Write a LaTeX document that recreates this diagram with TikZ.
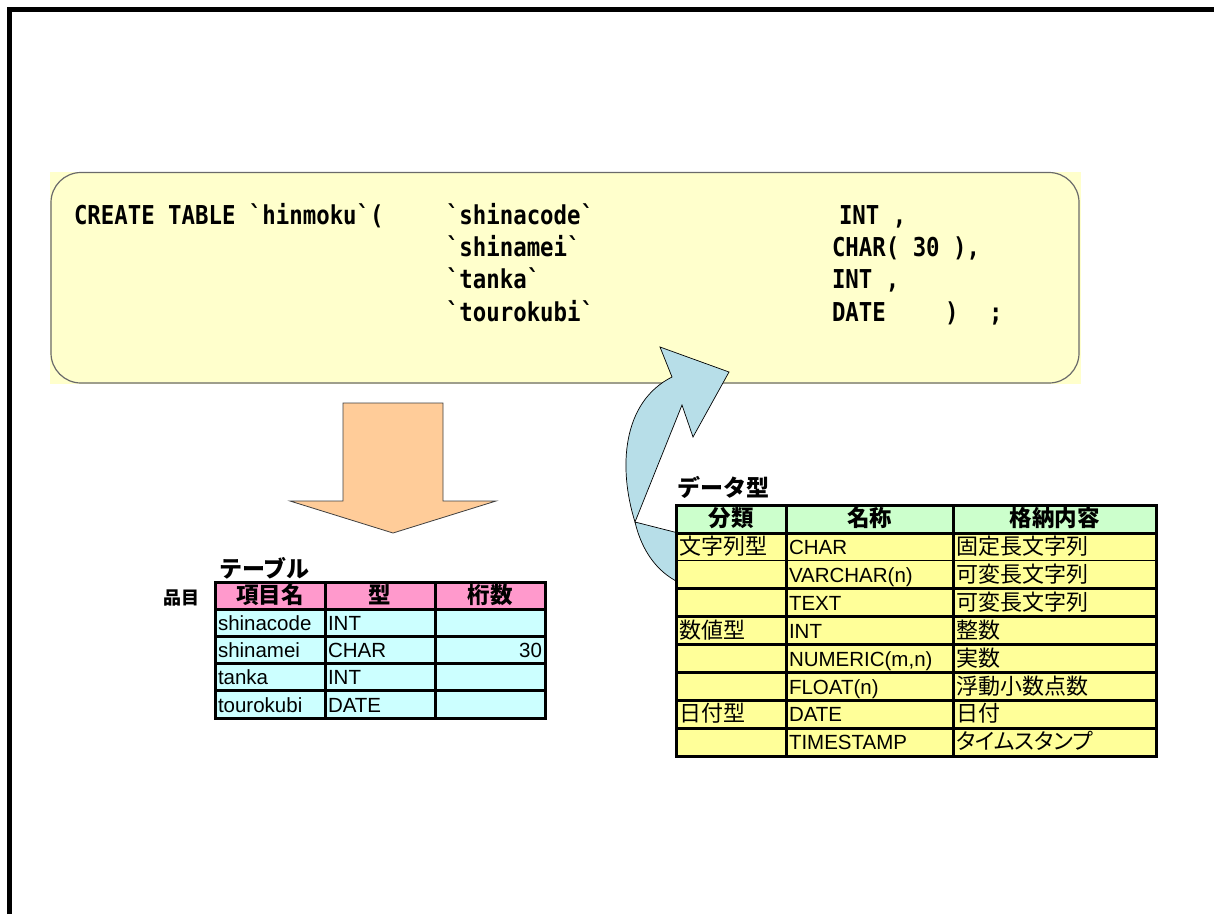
\documentclass[tikz,border=0pt]{standalone}
\usepackage{fontspec}
\setmainfont{Liberation Sans}
\newfontfamily\jp{Noto Sans CJK JP}
\newfontfamily\jpp{Noto Sans CJK JP}[RawFeature=+palt]
% monospaced, slightly condensed face for the SQL statement (no TeX quote mapping)
\font\codefont="DejaVu Sans Mono/B:extend=0.86" at 26pt

\definecolor{codefill}{HTML}{FFFFCC}
\definecolor{codeline}{HTML}{6A6A6A}
\definecolor{orangefill}{HTML}{FFCC99}
\definecolor{bluefill}{HTML}{B7DEE8}
\definecolor{pinkhdr}{HTML}{FF99CC}
\definecolor{cyanbody}{HTML}{CCFFFF}
\definecolor{greenhdr}{HTML}{CCFFCC}
\definecolor{yellowbody}{HTML}{FFFF99}

\tikzset{
  codetxt/.style={anchor=base west, font=\codefont},
  tabtitle/.style={anchor=base west, font=\jp\bfseries\fontsize{23}{25}\selectfont},
  hdrL/.style={fill=pinkhdr, draw=black, line width=3pt, minimum width=110pt,
    minimum height=27.2pt, font=\jp\bfseries\fontsize{22.5}{24}\selectfont,
    text height=17pt, text depth=2pt},
  bodyL/.style={fill=cyanbody, draw=black, line width=3pt, minimum width=110pt,
    minimum height=27.2pt, text width=104pt, inner xsep=3pt,
    font=\fontsize{20.5}{22}\selectfont, text height=16pt, text depth=0.5pt},
  hdrR/.style={fill=greenhdr, minimum height=28pt,
    font=\jp\bfseries\fontsize{22.5}{24}\selectfont, text height=17pt, text depth=2pt},
  bodyR/.style={fill=yellowbody, minimum height=27.875pt, inner xsep=3pt,
    font=\jp\fontsize{22}{24}\selectfont, text height=16.5pt, text depth=1pt},
  latinR/.style={font=\fontsize{20.5}{22}\selectfont},
  gridline/.style={draw=black, line width=3pt, line cap=rect},
  downarrow/.style={fill=orangefill, draw=black!75, line width=0.8pt, line join=miter},
  curvearrow/.style={fill=bluefill, draw=black, line width=0.7pt},
  frameline/.style={draw=black, line width=5pt},
}

\begin{document}
\begin{tikzpicture}[x=1pt, y=-1pt, every node/.style={inner sep=0pt, outer sep=0pt}]
\useasboundingbox (0,0) rectangle (1214,914);
\fill[white] (0,0) rectangle (1214,914);

% page frame (top and left edges)
\draw[frameline] (9,914) -- (9,9.5) -- (1214,9.5);

% SQL statement box
\node[fill=codefill, minimum width=1031pt, minimum height=212pt] (codebg) at (565.5,278) {};
\node[draw=codeline, line width=1.2pt, rounded corners=30pt,
      minimum width=1028pt, minimum height=210.5pt] (code) at (565,277.75) {};

\node[codetxt] (c1a) at (74,224)  {CREATE TABLE `hinmoku`(};
\node[codetxt] (c1b) at (446,224) {`shinacode`};
\node[codetxt] (c1c) at (839,224) {INT ,};
\node[codetxt] (c2b) at (446,256) {`shinamei`};
\node[codetxt] (c2c) at (832,256) {CHAR( 30 ),};
\node[codetxt] (c3b) at (446,288.5) {`tanka`};
\node[codetxt] (c3c) at (832,288.5) {INT ,};
\node[codetxt] (c4b) at (446,321) {`tourokubi`};
\node[codetxt] (c4c) at (832,321) {DATE};
\node[codetxt] (c4d) at (945,321) {)};
\node[codetxt] (c4e) at (989,321) {;};

% block arrow from the statement down to the table
\draw[downarrow] (343,403) -- (443,403) -- (443,501) -- (496,501) -- (393,533)
  -- (290,501) -- (343,501) -- cycle;

% curved arrow from the data-type list up to the statement
\draw[curvearrow] (635,522) -- (690,536) -- (690,588) -- (678,582)
  .. controls (658,572) and (642,552) .. (635,522) -- cycle;
\draw[curvearrow] (635,522) .. controls (618,468) and (622,402) .. (672,377)
  -- (660,347) -- (729,372) -- (693,437) -- (682,405) -- cycle;

% ---- table "hinmoku"
\node[tabtitle] (ttable) at (219,577) {テーブル};
\node[anchor=base west, font=\jp\bfseries\fontsize{18}{20}\selectfont] (tname) at (163,604) {品目};

\node[hdrL] (L0-a) at (270,596.1) {項目名};
\node[hdrL] (L0-b) at (380,596.1) {型};
\node[hdrL] (L0-c) at (490,596.1) {桁数};
\foreach \r/\y/\ta/\tb/\tc in {1/622.8/shinacode/INT/{}, 2/650.0/shinamei/CHAR/30,
                               3/677.2/tanka/INT/{}, 4/704.4/tourokubi/DATE/{}} {
  \node[bodyL, align=left]  (L\r-a) at (270,\y) {\ta};
  \node[bodyL, align=left]  (L\r-b) at (380,\y) {\tb};
  \node[bodyL, align=right] (L\r-c) at (490,\y) {\tc};
}

% ---- data type list
\node[tabtitle] (tdtype) at (677,496) {データ型};

\node[hdrR, minimum width=110pt] (R0-a) at (731,519) {分類};
\node[hdrR, minimum width=167pt] (R0-b) at (869.5,519) {名称};
\node[hdrR, minimum width=203pt] (R0-c) at (1054.5,519) {格納内容};

\foreach \r/\ta/\tb/\tc in {1/文字列型/CHAR/固定長文字列,
                            2/{}/{VARCHAR(n)}/可変長文字列,
                            3/{}/TEXT/可変長文字列,
                            4/数値型/INT/整数,
                            5/{}/{NUMERIC(m,n)}/実数,
                            6/{}/{FLOAT(n)}/浮動小数点数,
                            7/日付型/DATE/日付,
                            8/{}/TIMESTAMP/{\jpp タイムスタンプ}} {
  \pgfmathsetmacro\yc{533+(\r-0.5)*27.875}
  \node[bodyR, minimum width=110pt, text width=104pt, align=left] (R\r-a) at (731,\yc) {\ta};
  \node[bodyR, latinR, minimum width=167pt, text width=161pt, align=left] (R\r-b) at (869.5,\yc) {\tb};
  \node[bodyR, minimum width=203pt, text width=197pt, align=left] (R\r-c) at (1054.5,\yc) {\tc};
}

% ruling of the data type list
\draw[gridline] (R0-a.north west) -- (R0-c.north east);
\foreach \r/\w in {0/3,1/1,2/3,3/3,4/3,5/3,6/3,7/3,8/3}
  \draw[gridline, line width=\w pt] (R\r-a.south west) -- (R\r-c.south east);
\draw[gridline] (R0-a.north west) -- (R8-a.south west);
\draw[gridline] (R0-b.north west) -- (R8-b.south west);
\draw[gridline] (R0-c.north west) -- (R8-c.south west);
\draw[gridline] (R0-c.north east) -- (R8-c.south east);
\end{tikzpicture}
\end{document}
